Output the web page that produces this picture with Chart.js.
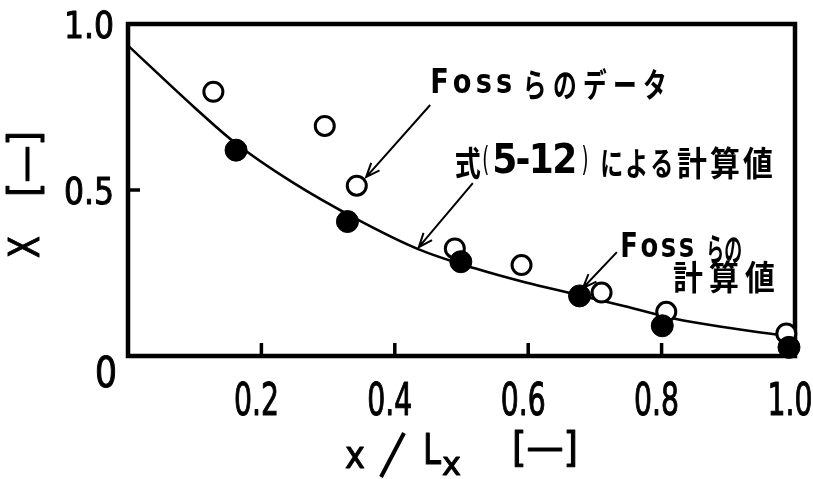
<!DOCTYPE html>
<html>
<head>
<meta charset="utf-8">
<script src="https://cdn.jsdelivr.net/npm/chart.js@4.4.1/dist/chart.umd.min.js"></script>
<style>
html, body { margin: 0; padding: 0; background: #fff; }
</style>
</head>
<body>
<canvas id="chart" width="813" height="479"></canvas>
<script>
// calculated curve, eq. (5-12)
var curveX = [0, 0.10, 0.16, 0.245, 0.345, 0.435, 0.52, 0.595, 0.675, 0.745, 0.82, 0.90, 1.0];
var curveY = [0.935, 0.748, 0.643, 0.525, 0.41, 0.322, 0.264, 0.222, 0.184, 0.150, 0.112, 0.085, 0.057];

// Foss et al. measured data (open circles)
var fossDataX = [0.128, 0.295, 0.343, 0.490, 0.590, 0.710, 0.807, 0.987];
var fossDataY = [0.796, 0.693, 0.513, 0.324, 0.274, 0.191, 0.133, 0.068];

// Foss et al. calculated values (filled circles)
var fossCalcX = [0.162, 0.329, 0.499, 0.677, 0.801, 0.991];
var fossCalcY = [0.620, 0.405, 0.284, 0.181, 0.091, 0.026];

var xTicks = [0.2, 0.4, 0.6, 0.8, 1.0];
var xTickLabels = ['0.2', '0.4', '0.6', '0.8', '1.0'];
var yTicks = [0.5, 1.0];
var yTickLabels = ['0.5', '1.0'];

var NUM_FONT = '"Liberation Sans Narrow", "DejaVu Sans Condensed", sans-serif';
var LAT_FONT = '"DejaVu Sans", sans-serif';
var JP_FONT = '"Noto Sans CJK JP", sans-serif';

function pts(xs, ys) {
	return xs.map(function(x, i) { return { x: x, y: ys[i] }; });
}

// draw text squeezed/stretched to a given width, a little heavier than regular
function fitText(ctx, txt, x, y, font, w, align) {
	ctx.save();
	ctx.font = font;
	ctx.textBaseline = 'middle';
	ctx.textAlign = 'left';
	var k = w / ctx.measureText(txt).width;
	var left = x;
	if (align == 'center') left = x - w / 2;
	if (align == 'right') left = x - w;
	ctx.translate(left, y);
	ctx.scale(k, 1);
	ctx.lineWidth = 1;
	ctx.lineJoin = 'round';
	ctx.fillText(txt, 0, 0);
	ctx.strokeText(txt, 0, 0);
	ctx.restore();
}

// draw each char scaled by sx, spread evenly over width w
function spacedText(ctx, txt, left, y, w, font, sx) {
	ctx.save();
	ctx.font = font;
	ctx.textBaseline = 'middle';
	ctx.textAlign = 'left';
	var chars = Array.from(txt);
	var ws = chars.map(function(c) { return ctx.measureText(c).width * sx; });
	var sum = ws.reduce(function(a, b) { return a + b; }, 0);
	var gap = chars.length > 1 ? (w - sum) / (chars.length - 1) : 0;
	var k = chars.length > 1 ? sx : w / (ws[0] / sx);
	var x = left;
	chars.forEach(function(c, i) {
		ctx.save();
		ctx.translate(x, y);
		ctx.scale(k, 1);
		ctx.fillText(c, 0, 0);
		ctx.restore();
		x += ws[i] + gap;
	});
	ctx.restore();
}

function arrow(ctx, x0, y0, x1, y1) {
	var a = Math.atan2(y1 - y0, x1 - x0);
	var L = 15, s = 0.38;
	ctx.beginPath();
	ctx.moveTo(x0, y0);
	ctx.lineTo(x1, y1);
	ctx.moveTo(x1 - L * Math.cos(a - s), y1 - L * Math.sin(a - s));
	ctx.lineTo(x1, y1);
	ctx.lineTo(x1 - L * Math.cos(a + s), y1 - L * Math.sin(a + s));
	ctx.stroke();
}

// annotations (positions in data units, widths in px)
var arrows = [
	[0.453, 0.756, 0.357, 0.539],
	[0.517, 0.521, 0.436, 0.328],
	[0.733, 0.313, 0.682, 0.205]
];
var notes = [
	{ txt: 'Foss', x: 0.453, y: 0.819, w: 82, font: 'bold 34px ' + LAT_FONT, sx: 0.8 },
	{ txt: 'らのデータ', x: 0.592, y: 0.819, w: 144, font: 'bold 33px ' + JP_FONT, sx: 0.72 },
	{ txt: '式', x: 0.490, y: 0.581, w: 26, font: 'bold 34px ' + JP_FONT, sx: 0.8 },
	{ txt: '(', x: 0.531, y: 0.584, w: 7, font: '34px ' + LAT_FONT, sx: 1 },
	{ txt: '5-12', x: 0.546, y: 0.581, w: 85, font: 'bold 40px ' + NUM_FONT, sx: 1 },
	{ txt: ')', x: 0.680, y: 0.584, w: 7, font: '34px ' + LAT_FONT, sx: 1 },
	{ txt: 'による', x: 0.708, y: 0.581, w: 73, font: 'bold 32px ' + JP_FONT, sx: 0.72 },
	{ txt: '計算値', x: 0.823, y: 0.581, w: 96, font: 'bold 34px ' + JP_FONT, sx: 0.88 },
	{ txt: 'Foss', x: 0.738, y: 0.325, w: 74, font: 'bold 34px ' + LAT_FONT, sx: 0.76 },
	{ txt: 'らの', x: 0.867, y: 0.322, w: 36, font: 'bold 32px ' + JP_FONT, sx: 0.56 },
	{ txt: '計算値', x: 0.817, y: 0.238, w: 102, font: 'bold 34px ' + JP_FONT, sx: 0.88 }
];

var framePlugin = {
	id: 'frame',
	beforeDatasetsDraw: function(chart) {
		var ctx = chart.ctx, a = chart.chartArea;
		var xs = chart.scales.x, ys = chart.scales.y;
		ctx.save();
		ctx.strokeStyle = '#000';
		ctx.lineWidth = 4.5;
		ctx.strokeRect(a.left, a.top, a.right - a.left, a.bottom - a.top);
		// inward ticks
		ctx.lineWidth = 3.5;
		ctx.beginPath();
		xTicks.forEach(function(v) {
			if (v >= 1) return;
			var px = xs.getPixelForValue(v);
			ctx.moveTo(px, a.bottom);
			ctx.lineTo(px, a.bottom - 13);
		});
		yTicks.forEach(function(v) {
			if (v >= 1) return;
			var py = ys.getPixelForValue(v);
			ctx.moveTo(a.left, py);
			ctx.lineTo(a.left + 12, py);
		});
		ctx.stroke();
		ctx.restore();
	},
	afterDraw: function(chart) {
		var ctx = chart.ctx, a = chart.chartArea;
		var xs = chart.scales.x, ys = chart.scales.y;
		ctx.save();
		ctx.fillStyle = '#000';
		ctx.strokeStyle = '#000';

		// tick labels
		xTicks.forEach(function(v, i) {
			fitText(ctx, xTickLabels[i], xs.getPixelForValue(v) - 5, a.bottom + 48,
				'44px ' + NUM_FONT, 45, 'center');
		});
		yTicks.forEach(function(v, i) {
			fitText(ctx, yTickLabels[i], a.left - 14, ys.getPixelForValue(v) + 4,
				'38px ' + NUM_FONT, 50, 'right');
		});
		fitText(ctx, '0', a.left - 22, a.bottom + 20, '42px ' + NUM_FONT, 22, 'center');

		// x axis title: x / Lx [—]
		fitText(ctx, 'x', 345, 458, '38px ' + NUM_FONT, 20, 'left');
		ctx.lineWidth = 4;
		ctx.beginPath();
		ctx.moveTo(381, 477);
		ctx.lineTo(404, 433);
		ctx.stroke();
		fitText(ctx, 'L', 423, 453, '42px ' + NUM_FONT, 18, 'left');
		fitText(ctx, 'x', 442, 467, '32px ' + NUM_FONT, 19, 'left');
		fitText(ctx, '[—]', 512, 451, '40px ' + NUM_FONT, 66, 'left');

		// y axis title: X [—], rotated
		ctx.save();
		ctx.translate(28, 258);
		ctx.rotate(-Math.PI / 2);
		fitText(ctx, 'X', 0, 0, '42px ' + NUM_FONT, 22, 'left');
		fitText(ctx, '[—]', 61, 0, '42px ' + NUM_FONT, 66, 'left');
		ctx.restore();

		// notes and arrows
		ctx.lineWidth = 2;
		arrows.forEach(function(r) {
			arrow(ctx, xs.getPixelForValue(r[0]), ys.getPixelForValue(r[1]),
				xs.getPixelForValue(r[2]), ys.getPixelForValue(r[3]));
		});
		notes.forEach(function(n) {
			spacedText(ctx, n.txt, xs.getPixelForValue(n.x), ys.getPixelForValue(n.y), n.w, n.font, n.sx);
		});
		ctx.restore();
	}
};

var chart = new Chart(document.getElementById('chart'), {
	type: 'scatter',
	data: {
		datasets: [
			{
				data: pts(fossCalcX, fossCalcY),
				pointRadius: 11,
				pointBackgroundColor: '#000',
				pointBorderColor: '#000',
				pointBorderWidth: 1,
				clip: false,
				order: 0
			},
			{
				data: pts(fossDataX, fossDataY),
				pointRadius: 9.5,
				pointBackgroundColor: '#fff',
				pointBorderColor: '#000',
				pointBorderWidth: 3,
				clip: false,
				order: 1
			},
			{
				data: pts(curveX, curveY),
				showLine: true,
				borderColor: '#000',
				borderWidth: 2.6,
				pointRadius: 0,
				cubicInterpolationMode: 'monotone',
				order: 2
			}
		]
	},
	options: {
		responsive: false,
		animation: false,
		devicePixelRatio: 1,
		layout: { padding: { left: 128, right: 18, top: 24, bottom: 123 } },
		plugins: { legend: { display: false }, tooltip: { enabled: false } },
		scales: {
			x: { type: 'linear', min: 0, max: 1, display: false },
			y: { type: 'linear', min: 0, max: 1, display: false }
		}
	},
	plugins: [framePlugin]
});
</script>
</body>
</html>
